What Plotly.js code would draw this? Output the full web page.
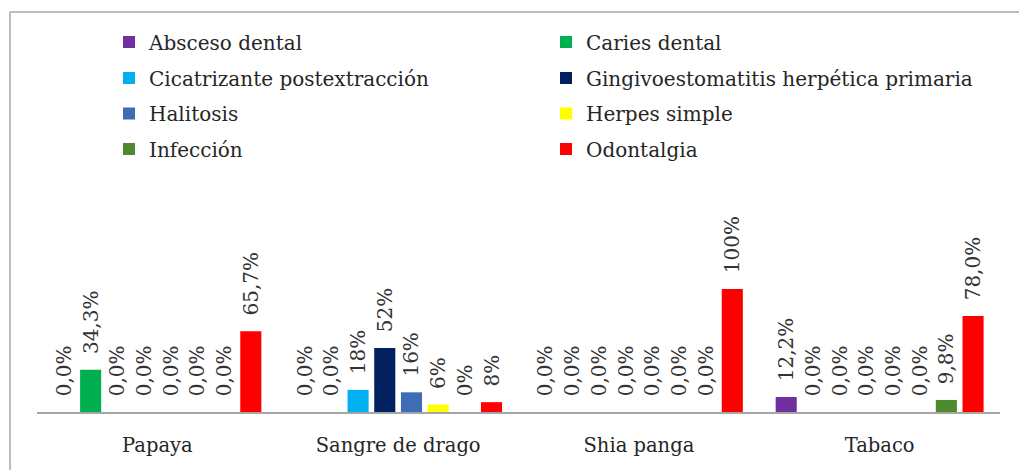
<!DOCTYPE html>
<html>
<head>
<meta charset="utf-8">
<script src="https://cdn.plot.ly/plotly-3.0.1.min.js"></script>
<style>
html,body{margin:0;padding:0;background:#fff;}
#chart{width:1019px;height:470px;}
</style>
</head>
<body>
<div id="chart"></div>
<script>
const categories = ["Papaya", "Sangre de drago", "Shia panga", "Tabaco"];

const seriesNames = [
  "Absceso dental",
  "Caries dental",
  "Cicatrizante postextracción",
  "Gingivoestomatitis herpética primaria",
  "Halitosis",
  "Herpes simple",
  "Infección",
  "Odontalgia"
];

const seriesColors = ["#7030A0", "#00B050", "#00B0F0", "#002060", "#3F6DB5", "#FFFF00", "#4E8A2E", "#FF0000"];

// values (%) per series, in category order
const abscesoDental      = [0, 0, 0, 12.2];
const cariesDental       = [34.3, 0, 0, 0];
const cicatrizante       = [0, 18, 0, 0];
const gingivoestomatitis = [0, 52, 0, 0];
const halitosis          = [0, 16, 0, 0];
const herpesSimple       = [0, 6, 0, 0];
const infeccion          = [0, 0, 0, 9.8];
const odontalgia         = [65.7, 8, 100, 78.0];

// data labels as printed
const lblAbsceso      = ["0,0%", "0,0%", "0,0%", "12,2%"];
const lblCaries       = ["34,3%", "0,0%", "0,0%", "0,0%"];
const lblCicatrizante = ["0,0%", "18%", "0,0%", "0,0%"];
const lblGingivo      = ["0,0%", "52%", "0,0%", "0,0%"];
const lblHalitosis    = ["0,0%", "16%", "0,0%", "0,0%"];
const lblHerpes       = ["0,0%", "6%", "0,0%", "0,0%"];
const lblInfeccion    = ["0,0%", "0%", "0,0%", "9,8%"];
const lblOdontalgia   = ["65,7%", "8%", "100%", "78,0%"];

const allValues = [abscesoDental, cariesDental, cicatrizante, gingivoestomatitis, halitosis, herpesSimple, infeccion, odontalgia];
const allLabels = [lblAbsceso, lblCaries, lblCicatrizante, lblGingivo, lblHalitosis, lblHerpes, lblInfeccion, lblOdontalgia];

const FONT = "DejaVu Serif";
const pad = "\u00a0\u00a0";
const legendIds = ["legend", "legend2", "legend3", "legend4"];

const traces = seriesNames.map((name, i) => ({
  type: "bar",
  name: name,
  legend: legendIds[Math.floor(i / 2)],
  x: categories,
  y: allValues[i],
  text: allLabels[i].map(s => pad + s),
  textposition: "outside",
  textangle: -90,
  constraintext: "none",
  cliponaxis: false,
  textfont: {family: FONT, size: 20, color: "#333333"},
  marker: {color: seriesColors[i], line: {width: 0}},
  hoverinfo: "skip"
}));

const L = 37, R = 19, T = 227, B = 58;
const W = 1019, H = 470;
const pw = W - L - R, ph = H - T - B;
const px2x = p => (p - L) / pw;
const py2y = p => (H - B - p) / ph;

const rowCenters = [42, 78, 113.5, 149];
const legendBase = rc => ({
  orientation: "h",
  x: px2x(109),
  xanchor: "left",
  y: py2y(rc),
  yanchor: "middle",
  entrywidth: 392,
  entrywidthmode: "pixels",
  font: {family: FONT, size: 20, color: "#262626"},
  bgcolor: "rgba(0,0,0,0)",
  traceorder: "normal"
});

const layout = {
  width: W,
  height: H,
  margin: {l: L, r: R, t: T, b: B, pad: 0},
  paper_bgcolor: "#ffffff",
  plot_bgcolor: "#ffffff",
  font: {family: FONT},
  barmode: "group",
  bargap: 0.113,
  bargroupgap: 0.21,
  showlegend: true,
  legend: legendBase(rowCenters[0]),
  legend2: legendBase(rowCenters[1]),
  legend3: legendBase(rowCenters[2]),
  legend4: legendBase(rowCenters[3]),
  xaxis: {
    type: "category",
    showline: true,
    linecolor: "#a6a6a6",
    linewidth: 1.5,
    showgrid: false,
    zeroline: false,
    ticks: "",
    ticklabelstandoff: 15,
    tickfont: {family: FONT, size: 19.5, color: "#262626"},
    fixedrange: true
  },
  yaxis: {
    range: [0, 150.4],
    visible: false,
    showgrid: false,
    zeroline: false,
    fixedrange: true
  },
  shapes: [
    {type: "line", xref: "paper", yref: "paper", x0: px2x(10), x1: px2x(10), y0: py2y(12), y1: py2y(475), line: {color: "#a6a6a6", width: 1.5}},
    {type: "line", xref: "paper", yref: "paper", x0: px2x(10), x1: px2x(1025), y0: py2y(12), y1: py2y(12), line: {color: "#a6a6a6", width: 1.5}}
  ]
};

Plotly.newPlot("chart", traces, layout, {displayModeBar: false, staticPlot: true});
</script>
</body>
</html>
